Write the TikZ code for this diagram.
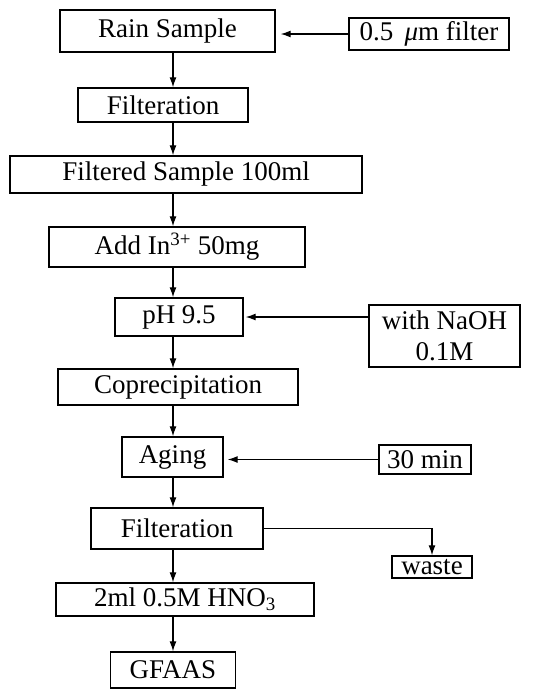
\documentclass[tikz,border=0pt]{standalone}
\usepackage{fontspec}
\setmainfont{Liberation Serif}
\usetikzlibrary{arrows.meta}

\begin{document}
\begin{tikzpicture}[
  x=1pt,y=-1pt,font=\fontsize{27}{31}\selectfont,>=Latex,
  stepbox/.style={draw,line width=1.4pt,inner sep=0pt,align=center},
  flow/.style={-{Latex[length=10pt,width=7pt]},line width=1.2pt}
]
\useasboundingbox (0,0) rectangle (539,689);
% ---------- main column
\node[stepbox,minimum width=215pt,minimum height=42pt] (rain)   at (167.5,31)  {Rain Sample};
\node[stepbox,minimum width=170pt,minimum height=34pt] (filt)   at (163,105)   {Filteration};
\node[stepbox,minimum width=352pt,minimum height=37pt] (fsamp)  at (186,174.5) {Filtered Sample 100ml};
\node[stepbox,minimum width=256pt,minimum height=40pt] (addin)  at (177,247)   {Add In\textsuperscript{3+} 50mg};
\node[stepbox,minimum width=128pt,minimum height=38pt] (ph)     at (179,317)   {pH 9.5};
\node[stepbox,minimum width=240pt,minimum height=36pt] (copre)  at (178,387)   {Coprecipitation};
\node[stepbox,minimum width=101pt,minimum height=40pt] (aging)  at (172.5,457)  {Aging};
\node[stepbox,minimum width=172pt,minimum height=41pt] (filtb)  at (177,528.5) {Filteration};
\node[stepbox,minimum width=258pt,minimum height=33pt] (hno)    at (185,599.5) {2ml 0.5M HNO\textsubscript{3}};
\node[stepbox,minimum width=125pt,minimum height=36pt] (gfaas)  at (173,670)   {GFAAS};
% ---------- side inputs
\node[stepbox,minimum width=160pt,minimum height=32pt] (mfilt)  at (429,34)    {0.5 \,{\itshape μ}m filter};
\node[stepbox,minimum width=151pt,minimum height=62pt] (naoh)   at (444.5,336) {with NaOH\\0.1M};
\node[stepbox,minimum width=92pt,minimum height=29pt]  (tmin)   at (425,459.5) {30 min};
\node[stepbox,minimum width=80pt,minimum height=22pt]  (waste)  at (432,567)   {waste};
% ---------- arrows
\coordinate (col) at (173,0);
\foreach \a/\b in {rain/filt,filt/fsamp,fsamp/addin,addin/ph,ph/copre,copre/aging,aging/filtb,filtb/hno,hno/gfaas}
  \draw[flow] (\a.south -| col) -- (\b.north -| col);
\draw[flow,shorten >=5pt] (mfilt.west) -- (mfilt.west -| rain.east);
\draw[flow,shorten >=2pt] (naoh.west |- ph.east) -- (ph.east);
\draw[flow,shorten >=4pt] (tmin.west) -- (tmin.west -| aging.east);
\draw[flow] (filtb.east) -| (waste.north);
\end{tikzpicture}
\end{document}
